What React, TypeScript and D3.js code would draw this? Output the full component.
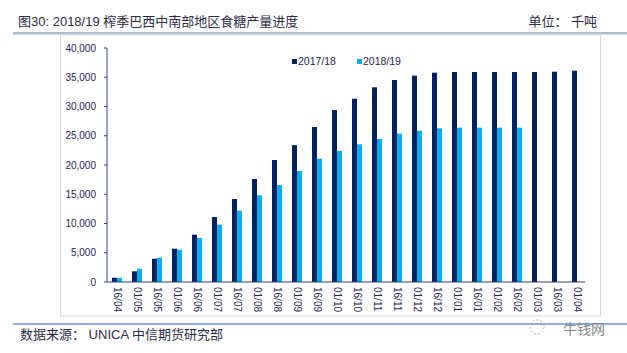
import React from 'react';
import * as d3 from 'd3';

const width = 627;
const height = 353;
const margin = { top: 48, right: 40, bottom: 71, left: 107 };

// 统计日期（半月）
const periods = [
  '16/04', '01/05', '16/05', '01/06', '16/06', '01/07', '16/07', '01/08',
  '16/08', '01/09', '16/09', '01/10', '16/10', '01/11', '16/11', '01/12',
  '16/12', '01/01', '16/01', '01/02', '16/02', '01/03', '16/03', '01/04'
];

const series = ['2017/18', '2018/19'];

const crop1718 = [
  730, 1830, 3980, 5690, 8090, 11110, 14190, 17610,
  20850, 23400, 26500, 29400, 31330, 33280, 34530, 35270,
  35780, 35900, 35900, 35900, 35900, 35900, 35950, 36120
];

const crop1819 = [
  700, 2270, 4150, 5520, 7520, 9800, 12190, 14820,
  16580, 18970, 21080, 22390, 23540, 24440, 25350, 25860,
  26270, 26380, 26380, 26380, 26380, null, null, null
];

const yTicks = [0, 5000, 10000, 15000, 20000, 25000, 30000, 35000, 40000];

const colors = ['#002060', '#00b0f0'];
const cjk = '"Liberation Sans", "Noto Sans CJK SC", Arial, sans-serif';
const latin = '"Liberation Sans", Arial, sans-serif';

export default function App() {
  const x0 = d3
    .scaleBand()
    .domain(periods)
    .range([margin.left, width - margin.right])
    .paddingInner(0.5)
    .paddingOuter(0.25);

  const x1 = d3.scaleBand().domain(series).range([0, x0.bandwidth()]);

  const y = d3
    .scaleLinear()
    .domain([0, 40000])
    .range([height - margin.bottom, margin.top]);

  const fmt = d3.format(',');
  const y0 = y(0);
  const rows = [crop1718, crop1819];

  return (
    <svg
      width={width}
      height={height}
      style={{ position: 'absolute', left: 0, top: 0, display: 'block', background: '#fff' }}
    >
      {/* title */}
      <text x={18} y={26} fontSize={13} fill="#2b2b44" fontFamily={cjk}>
        图30: 2018/19 榨季巴西中南部地区食糖产量进度
      </text>
      <text x={597} y={26} fontSize={13} fill="#2b2b44" fontFamily={cjk} textAnchor="end">
        单位： 千吨
      </text>
      <rect x={13} y={32} width={614} height={2.5} fill="#abbfd3" />

      {/* chart frame */}
      <rect x={60.5} y={35} width={540} height={281} fill="none" stroke="#d9d9d9" />

      {/* legend */}
      {series.map((s, i) => (
        <g key={s} transform={`translate(${292 + i * 65}, 59)`}>
          <rect x={0} y={0} width={5} height={5} fill={colors[i]} />
          <text x={6} y={6} fontSize={10.5} fill="#1c2455" fontFamily={latin}>
            {s}
          </text>
        </g>
      ))}

      {/* bars */}
      {rows.map((vals, si) =>
        vals.map((v, i) =>
          v == null ? null : (
            <rect
              key={`${si}-${i}`}
              x={(x0(periods[i]) as number) + (x1(series[si]) as number)}
              y={y(v)}
              width={x1.bandwidth()}
              height={y0 - y(v)}
              fill={colors[si]}
            />
          )
        )
      )}

      {/* y axis */}
      <line x1={margin.left} x2={margin.left} y1={margin.top} y2={y0} stroke="#34407a" />
      {yTicks.map(t => (
        <g key={t}>
          <line x1={margin.left - 3} x2={margin.left} y1={y(t)} y2={y(t)} stroke="#34407a" />
          <text
            x={96}
            y={y(t)}
            dy="0.35em"
            fontSize={10}
            textAnchor="end"
            fill="#1c2455"
            fontFamily={latin}
          >
            {fmt(t)}
          </text>
        </g>
      ))}

      {/* x axis */}
      <line x1={margin.left} x2={width - margin.right - 2} y1={y0} y2={y0} stroke="#34407a" />
      {periods.map(p => {
        const cx = (x0(p) as number) + x0.bandwidth() / 2;
        return (
          <text
            key={p}
            transform={`translate(${cx}, ${y0 + 5}) rotate(90)`}
            dy="0.35em"
            fontSize={10}
            fill="#1c2455"
            fontFamily={latin}
          >
            {p}
          </text>
        );
      })}

      {/* footer */}
      <rect x={13} y={323} width={614} height={2} fill="#8fb0d8" />
      <text x={20} y={339} fontSize={13} fill="#2b2b44" fontFamily={cjk}>
        数据来源： UNICA  中信期货研究部
      </text>
      <circle cx={537} cy={327} r={7} fill="none" stroke="#aaa" strokeDasharray="2,2" />
      <text x={563} y={334} fontSize={14} fill="#888" fontFamily={cjk}>
        牛钱网
      </text>
    </svg>
  );
}
